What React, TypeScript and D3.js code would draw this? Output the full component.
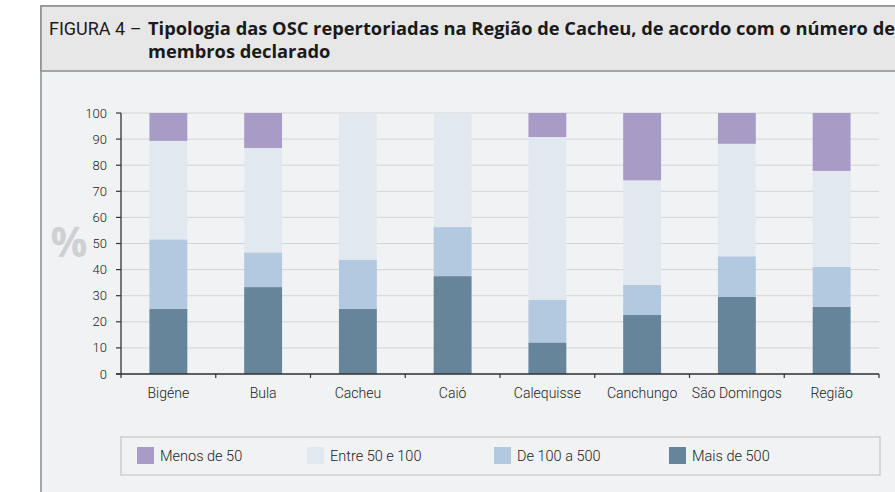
import React from "react";
import * as d3 from "d3";

// Categories and values (% of OSCs in each membership class)
const categories = ["Bigéne", "Bula", "Cacheu", "Caió", "Calequisse", "Canchungo", "São Domingos", "Região"];
const maisDe500 = [25, 33.3, 25, 37.5, 12.1, 22.6, 29.5, 25.8];
const de100a500 = [26.6, 13.3, 18.8, 18.8, 16.3, 11.5, 15.6, 15.2];
const entre50e100 = [37.7, 40.0, 56.2, 43.7, 62.4, 40.1, 43.1, 36.8];
const menosDe50 = [10.7, 13.4, 0, 0, 9.2, 25.8, 11.8, 22.2];
const yTicks = [0, 10, 20, 30, 40, 50, 60, 70, 80, 90, 100];

const seriesKeys = ["mais", "de", "entre", "menos"];
const seriesLabels: Record<string, string> = {
  menos: "Menos de 50",
  entre: "Entre 50 e 100",
  de: "De 100 a 500",
  mais: "Mais de 500",
};
const colors: Record<string, string> = {
  menos: "#a89cc7",
  entre: "#e1e8f0",
  de: "#b3c9df",
  mais: "#66849a",
};

const W = 895;
const H = 492;
const plot = { left: 121, right: 879, top: 113, bottom: 374 };
const axisFont = "Roboto, 'Open Sans', sans-serif";
const titleFont = "'Open Sans', sans-serif";

export default function App() {
  const rows = categories.map((c, i) => ({
    cat: c,
    mais: maisDe500[i],
    de: de100a500[i],
    entre: entre50e100[i],
    menos: menosDe50[i],
  }));
  const stacked = d3.stack<any>().keys(seriesKeys)(rows);

  const x = d3.scaleBand().domain(categories).range([plot.left, plot.right]).padding(0);
  const y = d3.scaleLinear().domain([0, 100]).range([plot.bottom, plot.top]);
  const barW = x.bandwidth() * 0.4;

  const legendOrder = ["menos", "entre", "de", "mais"];
  const legendX = [137, 307, 494, 669];

  return (
    <svg
      width={W}
      height={H}
      style={{ position: "absolute", left: 0, top: 0, display: "block" }}
    >
      <rect x={0} y={0} width={W} height={H} fill="#ffffff" />
      {/* frame */}
      <rect x={41} y={6} width={W} height={H} fill="#f1f2f4" stroke="#8c8c8c" strokeWidth={1.5} />
      <rect x={41} y={6} width={W} height={65} fill="#e7e7e7" stroke="#8c8c8c" strokeWidth={1.5} />

      {/* title */}
      <text x={49} y={35} fontFamily={axisFont} fontSize={18} fill="#1a1a1a">
        FIGURA 4 –
      </text>
      <text x={148} y={35} fontFamily={titleFont} fontSize={18.3} fontWeight="bold" fill="#1a1a1a">
        Tipologia das OSC repertoriadas na Região de Cacheu, de acordo com o número de
      </text>
      <text x={148} y={58} fontFamily={titleFont} fontSize={18.3} fontWeight="bold" fill="#1a1a1a">
        membros declarado
      </text>

      {/* gridlines */}
      {yTicks.map((t) => (
        <line key={t} x1={plot.left} x2={plot.right} y1={y(t)} y2={y(t)} stroke="#d3d4d6" strokeWidth={1} />
      ))}

      {/* bars */}
      {stacked.map((s) => (
        <g key={s.key} fill={colors[s.key]}>
          {s.map((d, i) =>
            d[1] - d[0] > 0 ? (
              <rect
                key={i}
                x={(x(categories[i]) as number) + x.bandwidth() / 2 - barW / 2}
                y={y(d[1])}
                width={barW}
                height={y(d[0]) - y(d[1])}
              />
            ) : null
          )}
        </g>
      ))}

      {/* y axis */}
      <line x1={plot.left} x2={plot.left} y1={plot.top} y2={plot.bottom} stroke="#333" strokeWidth={1.3} />
      {yTicks.map((t) => (
        <g key={t}>
          <line x1={plot.left - 5} x2={plot.left} y1={y(t)} y2={y(t)} stroke="#333" strokeWidth={1.2} />
          <text
            x={plot.left - 14}
            y={y(t)}
            dy="0.35em"
            textAnchor="end"
            fontFamily={axisFont}
            fontWeight={300}
            fontSize={13}
            fill="#222"
          >
            {t}
          </text>
        </g>
      ))}
      <text x={69} y={257} textAnchor="middle" fontFamily={titleFont} fontWeight="bold" fontSize={41} fill="#cfd0d2">
        %
      </text>

      {/* x axis */}
      <line x1={plot.left - 5} x2={plot.right} y1={plot.bottom} y2={plot.bottom} stroke="#333" strokeWidth={1.3} />
      {categories.map((c) => (
        <line
          key={"t" + c}
          x1={x(c) as number}
          x2={x(c) as number}
          y1={plot.bottom}
          y2={plot.bottom + 4}
          stroke="#333"
          strokeWidth={1.2}
        />
      ))}
      <line x1={plot.right} x2={plot.right} y1={plot.bottom} y2={plot.bottom + 4} stroke="#333" strokeWidth={1.2} />
      {categories.map((c) => (
        <text
          key={"l" + c}
          x={(x(c) as number) + x.bandwidth() / 2}
          y={398}
          textAnchor="middle"
          fontFamily={axisFont}
          fontWeight={300}
          fontSize={14}
          fill="#222"
        >
          {c}
        </text>
      ))}

      {/* legend */}
      <rect x={121} y={437} width={759} height={38} fill="#f1f2f4" stroke="#c8c9cb" strokeWidth={1.3} />
      {legendOrder.map((k, i) => (
        <g key={k}>
          <rect x={legendX[i]} y={447} width={17} height={17} fill={colors[k]} />
          <text
            x={legendX[i] + 23}
            y={461}
            fontFamily={axisFont}
            fontWeight={300}
            fontSize={14.5}
            fill="#222"
          >
            {seriesLabels[k]}
          </text>
        </g>
      ))}
    </svg>
  );
}
